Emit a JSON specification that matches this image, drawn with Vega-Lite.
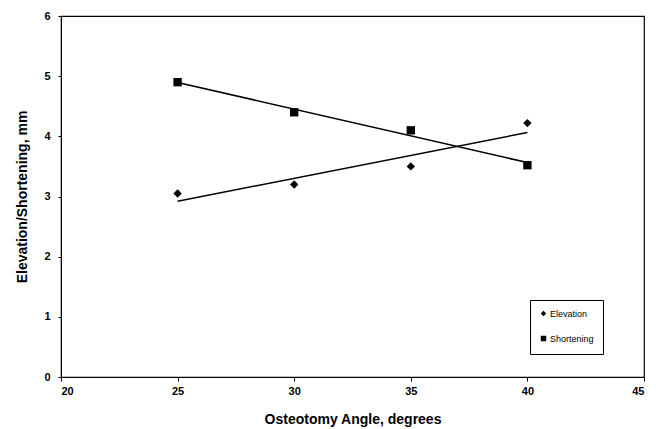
{
  "$schema": "https://vega.github.io/schema/vega-lite/v6.json",
  "autosize": {"type": "none"},
  "padding": {"left": 61, "top": 16, "right": 12, "bottom": 52},
  "width": 583,
  "height": 361,
  "background": "white",
  "config": {
    "view": {"stroke": "black", "strokeWidth": 1.2},
    "font": "Liberation Sans",
    "axis": {
      "grid": false,
      "domainColor": "black",
      "tickColor": "black",
      "labelColor": "black",
      "titleColor": "black",
      "labelFont": "Liberation Sans",
      "titleFont": "Liberation Sans",
      "labelFontWeight": "bold",
      "titleFontWeight": "bold",
      "labelFontSize": 11,
      "titleFontSize": 14
    }
  },
  "data": {
    "values": [
      {"angle": 25, "value": 3.05, "series": "Elevation"},
      {"angle": 30, "value": 3.2, "series": "Elevation"},
      {"angle": 35, "value": 3.5, "series": "Elevation"},
      {"angle": 40, "value": 4.22, "series": "Elevation"},
      {"angle": 25, "value": 4.9, "series": "Shortening"},
      {"angle": 30, "value": 4.4, "series": "Shortening"},
      {"angle": 35, "value": 4.1, "series": "Shortening"},
      {"angle": 40, "value": 3.52, "series": "Shortening"}
    ]
  },
  "layer": [
    {
      "transform": [{"regression": "value", "on": "angle", "groupby": ["series"]}],
      "mark": {"type": "line", "color": "black", "strokeWidth": 1.5},
      "encoding": {
        "x": {"field": "angle", "type": "quantitative"},
        "y": {"field": "value", "type": "quantitative"},
        "detail": {"field": "series"}
      }
    },
    {
      "mark": {"type": "point", "filled": true, "opacity": 1, "color": "black", "size": 70},
      "encoding": {
        "x": {
          "field": "angle",
          "type": "quantitative",
          "scale": {"domain": [20, 45], "nice": false, "zero": false},
          "axis": {"values": [20, 25, 30, 35, 40, 45], "format": "d", "title": "Osteotomy Angle, degrees", "tickSize": 4, "labelPadding": 4, "titlePadding": 16}
        },
        "y": {
          "field": "value",
          "type": "quantitative",
          "scale": {"domain": [0, 6], "nice": false},
          "axis": {"values": [0, 1, 2, 3, 4, 5, 6], "format": "d", "title": "Elevation/Shortening, mm", "tickSize": 3, "labelPadding": 8, "titlePadding": 14}
        },
        "shape": {
          "field": "series",
          "type": "nominal",
          "scale": {"domain": ["Elevation", "Shortening"], "range": ["diamond", "square"]},
          "legend": {
            "title": null,
            "orient": "none",
            "legendX": 469,
            "legendY": 284,
            "strokeColor": "black",
            "fillColor": "white",
            "padding": 9,
            "rowPadding": 12,
            "labelFontSize": 9,
            "labelFont": "Liberation Sans",
            "labelColor": "black",
            "symbolFillColor": "black",
            "symbolStrokeColor": "black",
            "symbolSize": 30,
            "symbolOffset": 0,
            "labelOffset": 2
          }
        }
      }
    }
  ]
}
